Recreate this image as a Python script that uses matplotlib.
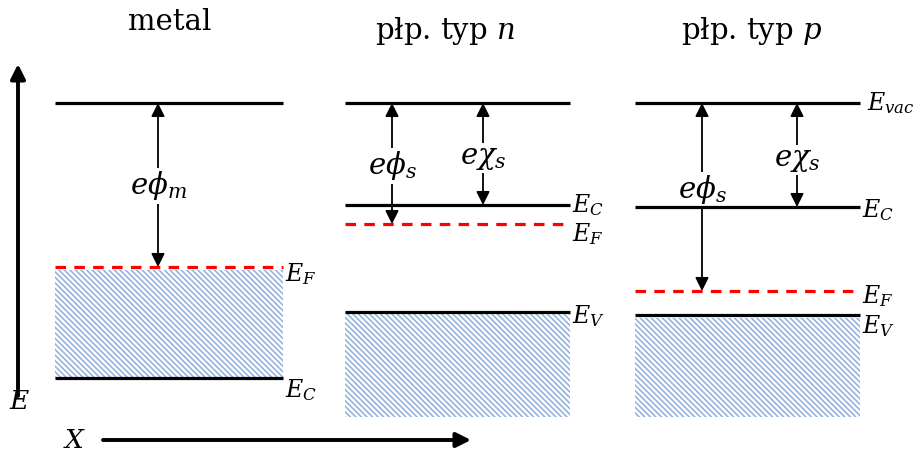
import matplotlib
matplotlib.use("Agg")
import matplotlib.pyplot as plt
from matplotlib.patches import Rectangle

plt.rcParams['mathtext.fontset'] = 'dejavuserif'
plt.rcParams['hatch.linewidth'] = 1.1

# panel geometry (in picture units, y grows downward)
titles = ['metal', 'płp. typ $n$', 'płp. typ $p$']
title_x = [170, 445, 752]
title_y = [22, 31, 31]
x_left = [55, 345, 635]
x_right = [283, 570, 860]
vac_y = [103, 103, 103]
fermi_y = [267, 224, 291]
fermi_label_y = [274, 234, 296]
band_top = [270, 312, 318]
band_bottom = [378, 417, 417]

# solid band edges: (panel, y, label, label_y)
edges = [(0, 378, '$E_C$', 390), (1, 205, '$E_C$', 205), (1, 312, '$E_V$', 316),
         (2, 207, '$E_C$', 210), (2, 315, '$E_V$', 326)]

# arrows: (x, y_top, y_bottom, label, label_y)
arrows = [(158, 103, 267, r'$e\phi_m$', 186),
          (392, 103, 224, r'$e\phi_s$', 166),
          (483, 103, 205, r'$e\chi_s$', 158),
          (702, 103, 291, r'$e\phi_s$', 190),
          (797, 103, 207, r'$e\chi_s$', 160)]

fig = plt.figure(figsize=(9.23, 4.58), dpi=100)
ax = fig.add_axes([0, 0, 1, 1])
ax.set_xlim(0, 923)
ax.set_ylim(458, 0)
ax.axis('off')

for i in range(3):
    ax.text(title_x[i], title_y[i], titles[i], ha='center', va='center',
            fontsize=21, family='DejaVu Serif')
    ax.add_patch(Rectangle((x_left[i], band_top[i]), x_right[i] - x_left[i],
                           band_bottom[i] - band_top[i], facecolor='white',
                           edgecolor='#8eaedb', linewidth=0, hatch='\\' * 6, zorder=1))
    ax.plot([x_left[i], x_right[i]], [vac_y[i], vac_y[i]], color='black', lw=2.3,
            solid_capstyle='butt', zorder=6)
    ax.plot([x_left[i], x_right[i]], [fermi_y[i], fermi_y[i]], color='#ff0000', lw=2.3,
            dashes=(3.3, 2.6), zorder=6)
    ax.text(x_right[i] + 2, fermi_label_y[i], '$E_F$', ha='left', va='center',
            fontsize=17)

for p, y, lab, ly in edges:
    ax.plot([x_left[p], x_right[p]], [y, y], color='black', lw=2.3,
            solid_capstyle='butt', zorder=6)
    ax.text(x_right[p] + 2, ly, lab, ha='left', va='center', fontsize=17)

ax.text(x_right[2] + 7, vac_y[2], '$E_{vac}$', ha='left', va='center', fontsize=17)

for x, y0, y1, lab, ly in arrows:
    ax.annotate('', xy=(x, y0), xytext=(x, y1),
                arrowprops=dict(arrowstyle='<|-|>', color='black', lw=1.3,
                                mutation_scale=20, shrinkA=0, shrinkB=0), zorder=4)
    ax.text(x, ly, lab, ha='center', va='center', fontsize=21, zorder=5,
            bbox=dict(facecolor='white', edgecolor='none', pad=1))

# energy axis and position axis
ax.annotate('', xy=(18, 64), xytext=(18, 396),
            arrowprops=dict(arrowstyle='-|>', color='black', lw=2.8,
                            mutation_scale=22, shrinkA=0, shrinkB=0))
ax.text(20, 402, '$E$', ha='center', va='center', fontsize=19)
ax.annotate('', xy=(471, 440), xytext=(103, 440),
            arrowprops=dict(arrowstyle='-|>', color='black', lw=2.8,
                            mutation_scale=22, shrinkA=0, shrinkB=0))
ax.text(75, 441, '$X$', ha='center', va='center', fontsize=19)

fig.savefig('out.png', dpi=100)
